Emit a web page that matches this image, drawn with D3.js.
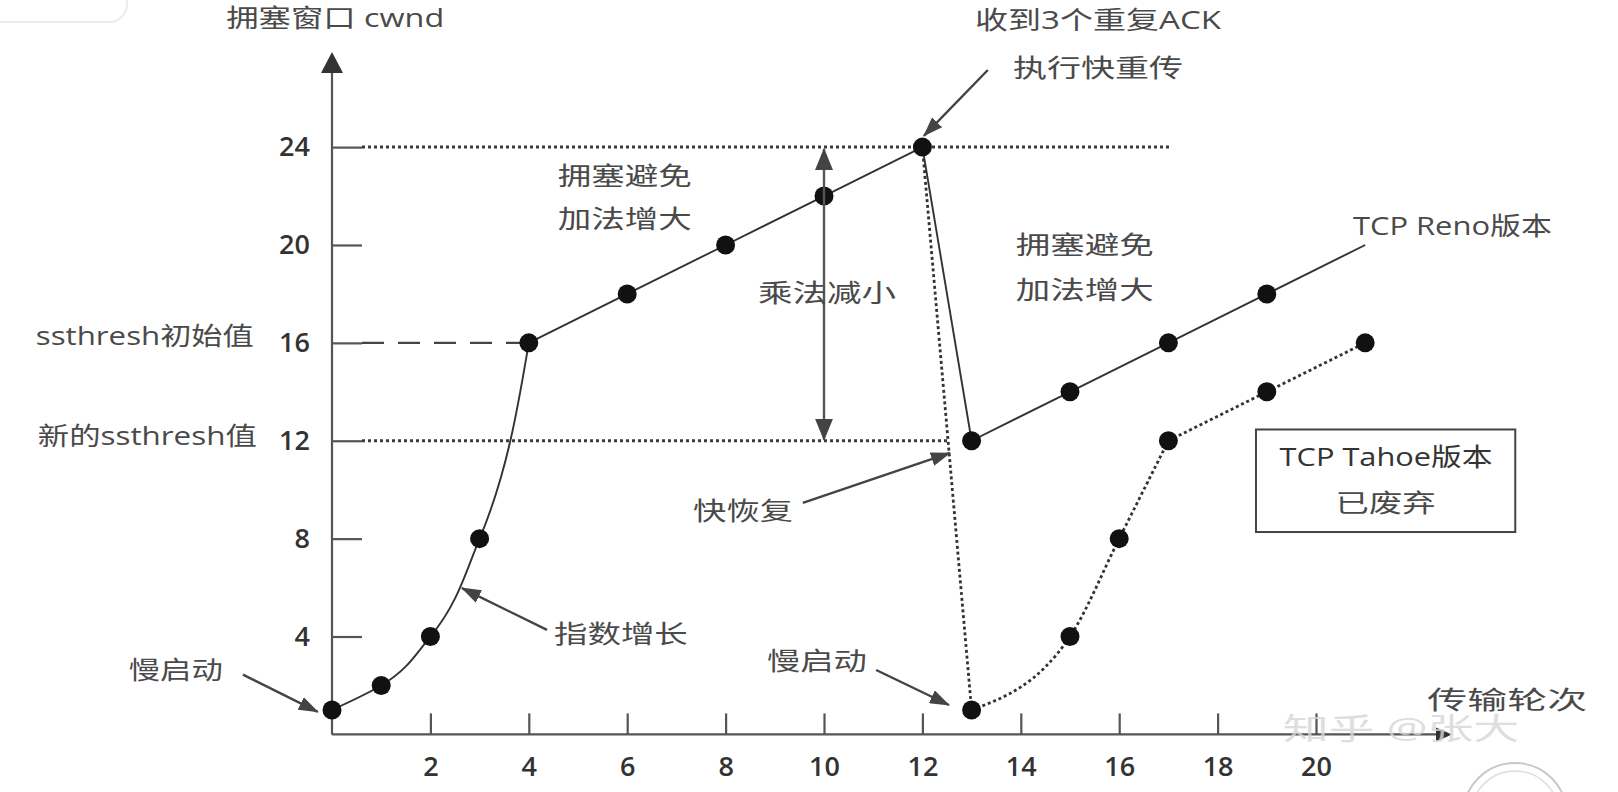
<!DOCTYPE html>
<html><head><meta charset="utf-8">
<script src="https://cdn.jsdelivr.net/npm/d3@7"></script>
<style>
body{margin:0;background:#fff;}
svg{display:block;}
</style>
</head><body>
<svg id="c" width="1618" height="792"></svg>
<script>
// ---------------- data ----------------
const xTicks = [2,4,6,8,10,12,14,16,18,20];
const yTicks = [4,8,12,16,20,24];
// TCP Reno path (rounds, cwnd)
const renoSlowStart = [[0,1],[1,2],[2,4],[3,8],[4,16]];
const renoAvoid1    = [[4,16],[6,18],[8,20],[10,22],[12,24]];
const renoDrop      = [[12,24],[13,12]];
const renoAvoid2    = [[13,12],[15,14],[17,16],[19,18]];
const renoLeader    = [[19,18],[21,20]];
const renoPoints    = [[0,1],[1,2],[2,4],[3,8],[4,16],[6,18],[8,20],[10,22],[12,24],[13,12],[15,14],[17,16],[19,18]];
// TCP Tahoe path
const tahoeDrop      = [[12,24],[13,1]];
const tahoeSlowStart = [[13,1],[15,4],[16,8],[17,12]];
const tahoeAvoid     = [[17,12],[19,14],[21,16]];
const tahoePoints    = [[13,1],[15,4],[16,8],[17,12],[19,14],[21,16]];
// thresholds
const ssthreshInit = 16;
const ssthreshNew  = 12;
const cwndPeak     = 24;
const dropRound    = 10;

// texts
const yTitle = "拥塞窗口 cwnd";
const xTitle = "传输轮次";
const annTexts = [
  "ssthresh初始值","新的ssthresh值","慢启动","指数增长",
  "拥塞避免","加法增大","乘法减小","收到3个重复ACK","执行快重传",
  "拥塞避免","加法增大","TCP Reno版本","快恢复","慢启动"
];
const boxTexts = ["TCP Tahoe版本","已废弃"];
const watermark = "知乎 @张大";

// ---------------- layout (data units) ----------------
const annLayout = [
  {t:-6.02, v:15.91, w:218},
  {t:-5.98, v:11.83, w:219},
  {t:-4.13, v:2.27,  w:94},
  {t:4.51,  v:3.73,  w:134},
  {t:4.59,  v:22.45, w:134},
  {t:4.59,  v:20.69, w:134},
  {t:8.66,  v:17.67, w:138},
  {t:13.07, v:28.83, w:246},
  {t:13.84, v:26.87, w:170},
  {t:13.90, v:19.63, w:138},
  {t:13.90, v:17.79, w:138},
  {t:20.75, v:20.41, w:199},
  {t:7.34,  v:8.76,  w:100},
  {t:8.84,  v:2.63,  w:100}
];
const arrows = [
  [[-1.81,2.44],[-0.29,0.92]],
  [[4.37,4.27],[2.64,5.98]],
  [[13.33,27.15],[12.03,24.46]],
  [[9.57,9.46],[12.56,11.50]],
  [[11.06,2.63],[12.54,1.20]]
];

// ---------------- scales ----------------
const x = d3.scaleLinear().domain([0,20]).range([332,1316]);
const y = d3.scaleLinear().domain([0,24]).range([734.4,147.1]);

const svg = d3.select("#c");
const defs = svg.append("defs");
defs.append("marker").attr("id","ah").attr("markerUnits","userSpaceOnUse")
  .attr("markerWidth",20).attr("markerHeight",14).attr("refX",19).attr("refY",7)
  .attr("orient","auto").append("path").attr("d","M0,0 L20,7 L0,14 Z").attr("fill","#444");
defs.append("marker").attr("id","ah2").attr("markerUnits","userSpaceOnUse")
  .attr("markerWidth",22).attr("markerHeight",18).attr("refX",21).attr("refY",9)
  .attr("orient","auto-start-reverse").append("path").attr("d","M0,0 L22,9 L0,18 Z").attr("fill","#444");

svg.append("rect").attr("width",1618).attr("height",792).attr("fill","#fff");

// faint UI artifacts
svg.append("rect").attr("x",-30).attr("y",-30).attr("width",157).attr("height",52).attr("rx",18)
  .attr("fill","#fff").attr("stroke","#ececec").attr("stroke-width",2);
svg.append("circle").attr("cx",1515).attr("cy",815).attr("r",52).attr("fill","none")
  .attr("stroke","#c8c8c8").attr("stroke-width",2);
svg.append("circle").attr("cx",1515).attr("cy",815).attr("r",44).attr("fill","none")
  .attr("stroke","#dedede").attr("stroke-width",1.5);

// ---------------- axes ----------------
const axCol = "#555";
const gx = svg.append("g").attr("transform",`translate(0,${y(0)})`)
  .call(d3.axisBottom(x).tickValues(xTicks).tickSize(-21).tickPadding(22).tickFormat(d3.format("d")));
const gy = svg.append("g").attr("transform",`translate(${x(0)},0)`)
  .call(d3.axisLeft(y).tickValues(yTicks).tickSize(-30).tickPadding(22).tickFormat(d3.format("d")));
[gx,gy].forEach(g=>{
  g.select(".domain").remove();
  g.selectAll(".tick line").attr("stroke",axCol).attr("stroke-width",2.2);
  g.selectAll(".tick text").attr("font-family","'Open Sans','Liberation Sans',sans-serif")
    .attr("font-size",27).attr("font-weight",600).attr("fill","#333");
});
// axis lines with arrowheads
const yTop = 52, xEnd = 1452;
svg.append("line").attr("x1",x(0)).attr("y1",y(0)).attr("x2",x(0)).attr("y2",yTop+10)
  .attr("stroke",axCol).attr("stroke-width",2.2);
svg.append("path").attr("d",`M${x(0)},${yTop} L${x(0)-11},${yTop+21} L${x(0)+11},${yTop+21} Z`).attr("fill","#333");
svg.append("line").attr("x1",x(0)).attr("y1",y(0)).attr("x2",xEnd-8).attr("y2",y(0))
  .attr("stroke",axCol).attr("stroke-width",2.2);
svg.append("path").attr("d",`M${xEnd},${y(0)} L${xEnd-16},${y(0)-7} L${xEnd-16},${y(0)+7} Z`).attr("fill","#333");

// ---------------- reference lines ----------------
const refDot = {stroke:"#3a3a3a","stroke-width":3,"stroke-dasharray":"3,3"};
function hline(v, t1, st, x0off){
  const l = svg.append("line").attr("x1",x(0)+x0off).attr("x2",x(t1)).attr("y1",y(v)).attr("y2",y(v));
  Object.entries(st).forEach(([k,val])=>l.attr(k,val));
}
hline(cwndPeak, 17.05, refDot, 30);
hline(ssthreshNew, 12.5, refDot, 30);
hline(ssthreshInit, 4, {stroke:"#444","stroke-width":2.4,"stroke-dasharray":"22,14"}, 30);

// ---------------- data lines ----------------
const lin = d3.line().x(d=>x(d[0])).y(d=>y(d[1]));
const monoY = d3.line().x(d=>x(d[0])).y(d=>y(d[1])).curve(d3.curveMonotoneY);
const monoX = d3.line().x(d=>x(d[0])).y(d=>y(d[1])).curve(d3.curveMonotoneX);
const solid = {stroke:"#333","stroke-width":1.9,fill:"none"};
const dotted = {stroke:"#333","stroke-width":2.8,fill:"none","stroke-dasharray":"3,2.8"};
function drawPath(data, gen, st){
  const p = svg.append("path").datum(data).attr("d",gen);
  Object.entries(st).forEach(([k,v])=>p.attr(k,v));
}
drawPath(tahoeDrop, lin, dotted);
drawPath(tahoeSlowStart, monoX, dotted);
drawPath(tahoeAvoid, lin, dotted);
drawPath(renoSlowStart, monoY, solid);
drawPath(renoAvoid1, lin, solid);
drawPath(renoDrop, lin, solid);
drawPath(renoAvoid2, lin, solid);
drawPath(renoLeader, lin, solid);

// dots
svg.append("g").selectAll("circle").data(renoPoints.concat(tahoePoints)).join("circle")
  .attr("cx",d=>x(d[0])).attr("cy",d=>y(d[1])).attr("r",9.5).attr("fill","#111");

// ---------------- annotations ----------------
arrows.forEach(a=>{
  svg.append("line").attr("x1",x(a[0][0])).attr("y1",y(a[0][1])).attr("x2",x(a[1][0])).attr("y2",y(a[1][1]))
    .attr("stroke","#444").attr("stroke-width",2.4).attr("marker-end","url(#ah)");
});
// multiplicative decrease double arrow
svg.append("line").attr("x1",x(dropRound)).attr("x2",x(dropRound))
  .attr("y1",y(cwndPeak)+2).attr("y2",y(ssthreshNew)-1)
  .attr("stroke","#555").attr("stroke-width",2.4)
  .attr("marker-start","url(#ah2)").attr("marker-end","url(#ah2)");

const cjk = "'Open Sans','Noto Sans CJK SC',sans-serif";
function label(s, px, py, w, opts={}){
  svg.append("text").attr("x",px).attr("y",py)
    .attr("textLength",w).attr("lengthAdjust","spacingAndGlyphs")
    .attr("font-family",cjk).attr("font-size",opts.fs||25)
    .attr("fill",opts.fill||"#4a4a4a").attr("font-weight",opts.fw||400)
    .text(s);
}
label(yTitle, x(-2.15), y(28.89), 218);
label(xTitle, x(22.26), y(1.04), 160);
annTexts.forEach((s,i)=>{
  const L = annLayout[i];
  label(s, x(L.t), y(L.v), L.w);
});
// Tahoe box
const bx0 = x(18.78), bx1 = x(24.05), by0 = y(12.46), by1 = y(8.27);
svg.append("rect").attr("x",bx0).attr("y",by0).attr("width",bx1-bx0).attr("height",by1-by0)
  .attr("fill","none").attr("stroke","#444").attr("stroke-width",2);
const bc = (bx0+bx1)/2;
label(boxTexts[0], bc-106, y(10.97), 213, {fill:"#333"});
label(boxTexts[1], bc-50, y(9.09), 100);

// watermark (faint)
svg.append("text").attr("x",x(19.33)).attr("y",y(-0.2)).attr("textLength",236).attr("lengthAdjust","spacingAndGlyphs")
  .attr("font-family",cjk).attr("font-size",30).attr("fill","#d6d6d6").attr("opacity",0.8).text(watermark);
</script>
</body></html>
